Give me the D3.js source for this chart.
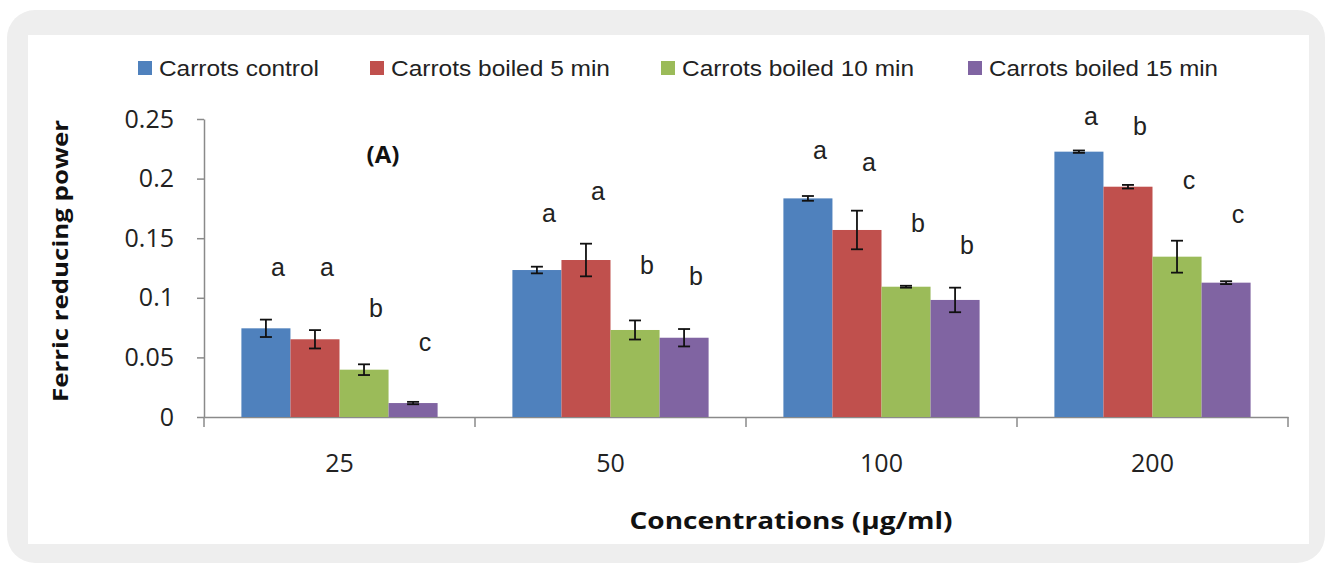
<!DOCTYPE html>
<html>
<head>
<meta charset="utf-8">
<script src="https://cdn.jsdelivr.net/npm/d3@7"></script>
<style>
  body { margin: 0; background: #fff; }
  svg { display: block; }
</style>
</head>
<body>
<div id="chart"></div>
<script>
var categories = ["25", "50", "100", "200"],
    series = ["Carrots control", "Carrots boiled 5 min", "Carrots boiled 10 min", "Carrots boiled 15 min"],
    colors = ["#4f81bd", "#c0504d", "#9bbb59", "#8064a2"];

// mean values per series, one per concentration
var control  = [0.0744, 0.1233, 0.1834, 0.2226],
    boiled5  = [0.0652, 0.1317, 0.1569, 0.1932],
    boiled10 = [0.0397, 0.0730, 0.1093, 0.1345],
    boiled15 = [0.0117, 0.0665, 0.0982, 0.1127];

// error bar half widths
var controlErr  = [0.0073, 0.0028, 0.0020, 0.0010],
    boiled5Err  = [0.0077, 0.0137, 0.0162, 0.0015],
    boiled10Err = [0.0045, 0.0080, 0.0008, 0.0134],
    boiled15Err = [0.0010, 0.0073, 0.0103, 0.0012];

// significance letters and the value at which each one sits
var controlLet  = ["a", "a", "a", "a"],
    boiled5Let  = ["a", "a", "a", "b"],
    boiled10Let = ["b", "b", "b", "c"],
    boiled15Let = ["c", "b", "b", "c"];
var controlLetY  = [0.126, 0.171, 0.224, 0.252],
    boiled5LetY  = [0.126, 0.189, 0.214, 0.244],
    boiled10LetY = [0.0914, 0.1275, 0.1625, 0.1988],
    boiled15LetY = [0.063, 0.1177, 0.1443, 0.1703];

var yTicks = [0, 0.05, 0.1, 0.15, 0.2, 0.25];

var vals = [control, boiled5, boiled10, boiled15],
    errs = [controlErr, boiled5Err, boiled10Err, boiled15Err],
    lets = [controlLet, boiled5Let, boiled10Let, boiled15Let],
    letY = [controlLetY, boiled5LetY, boiled10LetY, boiled15LetY];

var data = [];
series.forEach(function(s, i) {
  categories.forEach(function(c, j) {
    data.push({s: s, c: c, i: i, v: vals[i][j], e: errs[i][j], l: lets[i][j], ly: letY[i][j]});
  });
});

var W = 1332, H = 567;

var svg = d3.select("#chart").append("svg")
    .attr("width", W)
    .attr("height", H);

// frame
svg.append("rect")
    .attr("x", 7).attr("y", 10)
    .attr("width", 1318).attr("height", 553)
    .attr("rx", 28)
    .attr("fill", "#eeeeee");
svg.append("rect")
    .attr("x", 28).attr("y", 35)
    .attr("width", 1281).attr("height", 509)
    .attr("fill", "#ffffff");

var x = d3.scaleBand().domain(categories).range([204, 1288]),
    bw = x.bandwidth(),
    xs = d3.scaleBand().domain(series).range([bw * 0.138, bw * 0.862]),
    y = d3.scaleLinear().domain([0, 0.25]).range([417, 119]);

// y axis
var yAxis = svg.append("g")
    .attr("transform", "translate(204,0)")
    .call(d3.axisLeft(y)
      .tickValues(yTicks)
      .tickSize(7)
      .tickSizeOuter(0)
      .tickPadding(23)
      .tickFormat(function(d) { return d === 0 ? "0" : String(+d.toFixed(2)); }));
yAxis.selectAll("path, line").attr("stroke", "#8a8a8a").attr("stroke-width", 1.5);
yAxis.selectAll("text")
    .attr("font-family", "'Open Sans', sans-serif")
    .attr("font-size", 25)
    .attr("fill", "#222");

// x axis
var xAxis = svg.append("g")
    .attr("transform", "translate(0,417)")
    .call(d3.axisBottom(x).tickSize(0).tickPadding(37));
xAxis.select("path").attr("stroke", "#8a8a8a").attr("stroke-width", 1.5);
xAxis.selectAll("text")
    .attr("font-family", "'Open Sans', sans-serif")
    .attr("font-size", 25)
    .attr("fill", "#222");

var bounds = categories.map(function(c) { return x(c); }).concat([x(categories[3]) + bw]);
svg.append("g").selectAll("line")
  .data(bounds)
  .join("line")
    .attr("x1", function(d) { return d; })
    .attr("x2", function(d) { return d; })
    .attr("y1", 417).attr("y2", 427)
    .attr("stroke", "#8a8a8a")
    .attr("stroke-width", 1.5);

// bars
svg.append("g").selectAll("rect")
  .data(data)
  .join("rect")
    .attr("x", function(d) { return x(d.c) + xs(d.s); })
    .attr("y", function(d) { return y(d.v); })
    .attr("width", xs.bandwidth())
    .attr("height", function(d) { return y(0) - y(d.v); })
    .attr("fill", function(d) { return colors[d.i]; });

// error bars
var eb = svg.append("g").selectAll("g")
  .data(data)
  .join("g")
    .attr("transform", function(d) { return "translate(" + (x(d.c) + xs(d.s) + xs.bandwidth() / 2) + ",0)"; })
    .attr("stroke", "#111")
    .attr("stroke-width", 1.8);
eb.append("line")
    .attr("y1", function(d) { return y(d.v + d.e); })
    .attr("y2", function(d) { return y(d.v - d.e); });
eb.append("line")
    .attr("x1", -6).attr("x2", 6)
    .attr("y1", function(d) { return y(d.v + d.e); })
    .attr("y2", function(d) { return y(d.v + d.e); });
eb.append("line")
    .attr("x1", -6).attr("x2", 6)
    .attr("y1", function(d) { return y(d.v - d.e); })
    .attr("y2", function(d) { return y(d.v - d.e); });

// letters
svg.append("g").selectAll("text")
  .data(data)
  .join("text")
    .attr("x", function(d) { return x(d.c) + xs(d.s) + xs.bandwidth() / 2 + 12; })
    .attr("y", function(d) { return y(d.ly); })
    .attr("dy", "0.35em")
    .attr("text-anchor", "middle")
    .attr("font-family", "'Liberation Sans', Arial, sans-serif")
    .attr("font-size", 25)
    .attr("fill", "#222")
    .text(function(d) { return d.l; });

// panel label
svg.append("text")
    .attr("x", 383).attr("y", 163)
    .attr("text-anchor", "middle")
    .attr("font-family", "'Open Sans', sans-serif")
    .attr("font-weight", "bold")
    .attr("font-size", 24)
    .attr("fill", "#111")
    .text("(A)");

// axis titles
svg.append("text")
    .attr("transform", "translate(68,261) rotate(-90)")
    .attr("text-anchor", "middle")
    .attr("font-family", "'Open Sans', sans-serif")
    .attr("font-weight", "bold")
    .attr("font-size", 22)
    .attr("textLength", 282)
    .attr("lengthAdjust", "spacingAndGlyphs")
    .attr("fill", "#111")
    .text("Ferric reducing power");

svg.append("text")
    .attr("x", 791).attr("y", 529)
    .attr("text-anchor", "middle")
    .attr("font-family", "'Open Sans', sans-serif")
    .attr("font-weight", "bold")
    .attr("font-size", 23)
    .attr("textLength", 323)
    .attr("lengthAdjust", "spacingAndGlyphs")
    .attr("fill", "#111")
    .text("Concentrations (\u00b5g/ml)");

// legend
var legX = [138, 370, 661, 968],
    legW = [160, 219, 232, 229];
var leg = svg.append("g").selectAll("g")
  .data(series)
  .join("g")
    .attr("transform", function(d, i) { return "translate(" + legX[i] + ",68)"; });
leg.append("rect")
    .attr("x", 0).attr("y", -7)
    .attr("width", 14).attr("height", 14)
    .attr("fill", function(d, i) { return colors[i]; });
leg.append("text")
    .attr("x", 21)
    .attr("dy", "0.35em")
    .attr("font-family", "'Liberation Sans', Arial, sans-serif")
    .attr("font-size", 22)
    .attr("textLength", function(d, i) { return legW[i]; })
    .attr("lengthAdjust", "spacingAndGlyphs")
    .attr("fill", "#222")
    .text(function(d) { return d; });
</script>
</body>
</html>
